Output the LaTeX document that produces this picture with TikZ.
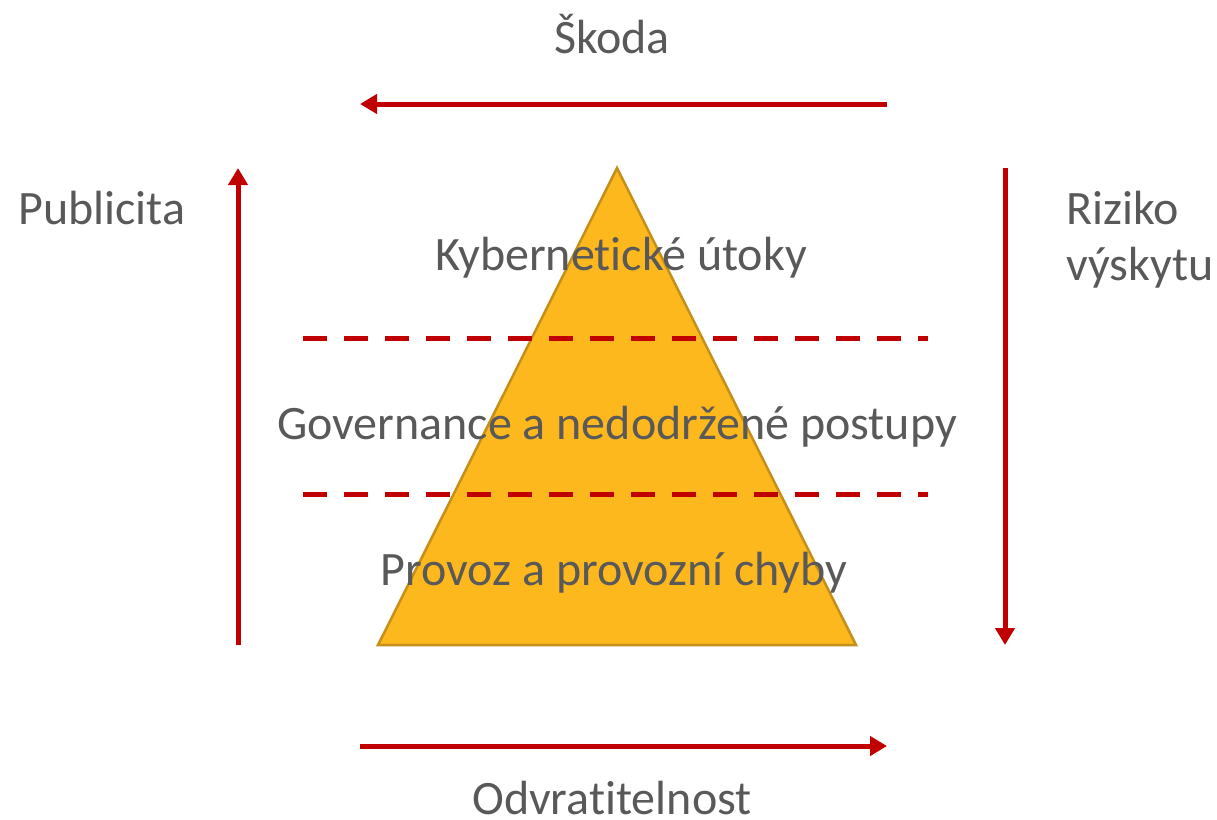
\documentclass[tikz,border=0pt]{standalone}
\usepackage{fontspec}
\setmainfont[Ligatures=NoCommon]{Carlito}
\usetikzlibrary{arrows.meta}
\definecolor{arrred}{HTML}{C00000}
\definecolor{pyrfill}{HTML}{FDB81E}
\definecolor{pyrline}{HTML}{C49019}
\definecolor{txtgray}{HTML}{595959}
\begin{document}
\begin{tikzpicture}[x=1pt,y=-1pt,
  bigarrow/.style={draw=arrred,line width=5pt,-{Triangle[length=17pt,width=19pt]}},
  sepline/.style={draw=arrred,line width=5pt,dash pattern=on 24pt off 17pt},
  lbl/.style={text=txtgray,font=\fontsize{48}{56}\selectfont,inner sep=0pt,anchor=base}]
\useasboundingbox (0,0) rectangle (1217,819);
\coordinate (apex) at (617,168);
\coordinate (bl) at (378,645);
\coordinate (br) at (856,645);
\filldraw[fill=pyrfill,draw=pyrline,line width=2.5pt,line join=miter] (apex) -- (br) -- (bl) -- cycle;
% arrows
\coordinate (tS) at (887,104); \coordinate (tE) at (360,104);
\draw[bigarrow] (tS) -- (tE);
\coordinate (lS) at (238,645); \coordinate (lE) at (238,168);
\draw[bigarrow] (lS) -- (lE);
\coordinate (rS) at (1005,168); \coordinate (rE) at (1005,645);
\draw[bigarrow] (rS) -- (rE);
\coordinate (bS) at (360,746); \coordinate (bE) at (887,746);
\draw[bigarrow] (bS) -- (bE);
% dashed separators
\coordinate (d1a) at (303,338); \coordinate (d1b) at (928,338);
\draw[sepline] (d1a) -- (d1b);
\coordinate (d2a) at (303,494); \coordinate (d2b) at (928,494);
\draw[sepline] (d2a) -- (d2b);
% labels
\node[lbl] (skoda) at (612,53) {Škoda};
\node[lbl] (odv) at (612,814) {Odvratitelnost};
\node[lbl,anchor=base west] (pub) at (18,224) {Publicita};
\node[lbl,anchor=base west] (riz) at (1066,224) {Riziko};
\node[lbl,anchor=base west] (vys) at (1066,280) {výskytu};
\node[lbl] (kyb) at (621,270) {Kybernetické útoky};
\node[lbl] (gov) at (617,439) {Governance a nedodržené postupy};
\node[lbl] (prov) at (614,585) {Provoz a provozní chyby};
\end{tikzpicture}
\end{document}
